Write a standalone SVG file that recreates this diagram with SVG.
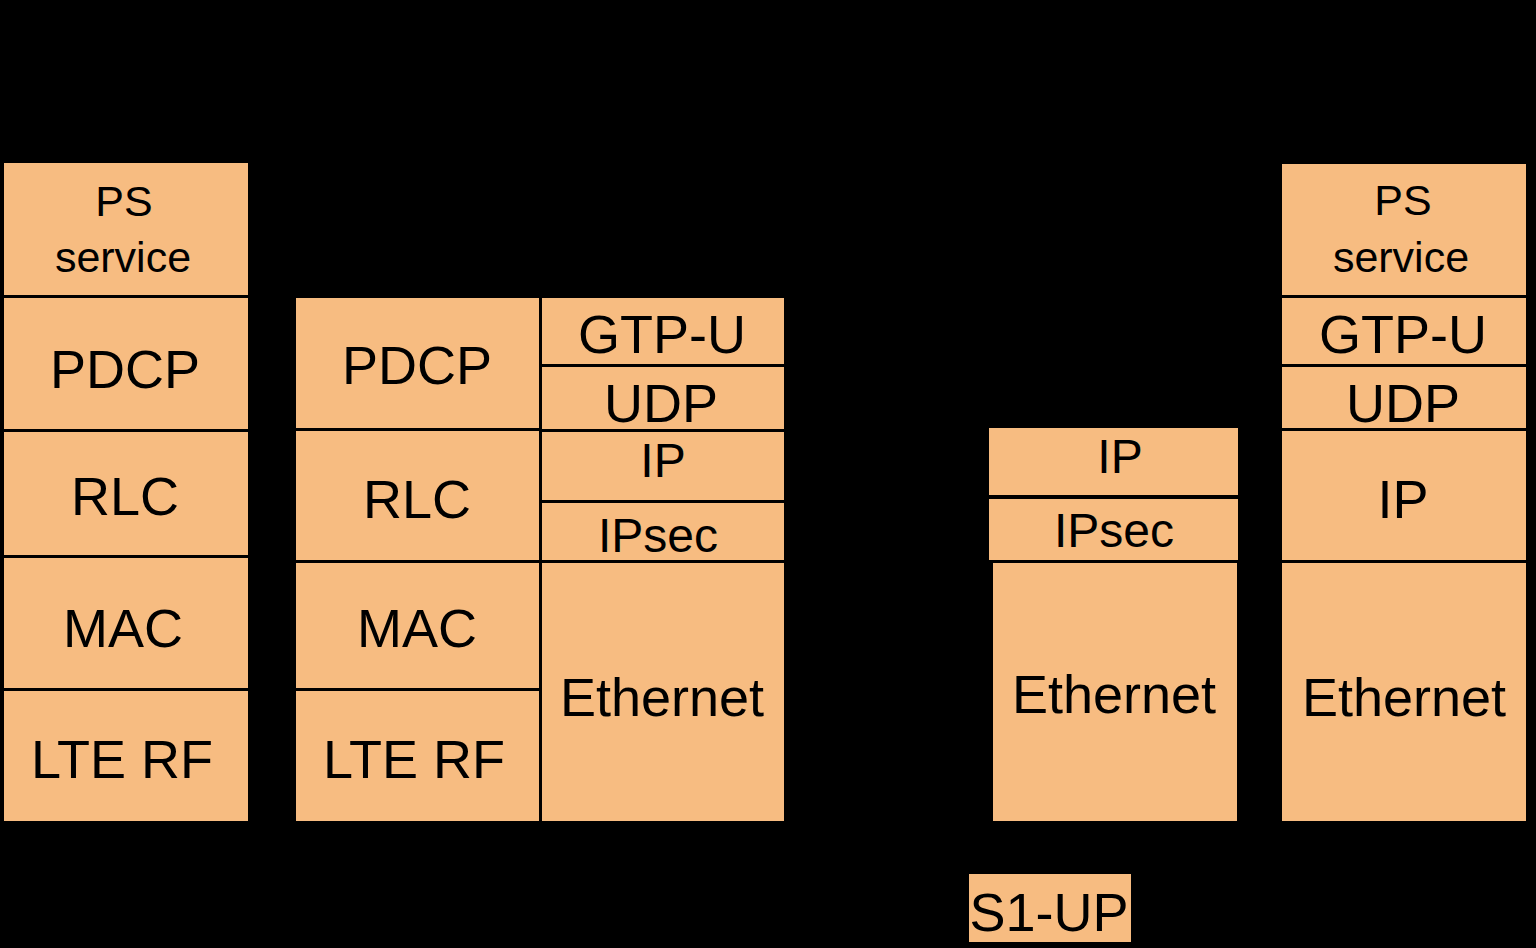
<svg xmlns="http://www.w3.org/2000/svg" width="1536" height="948" viewBox="0 0 1536 948">
<style>
.b{fill:#F7BC81;stroke:none}
.t{font-family:"Liberation Sans",Arial,sans-serif;fill:#000;text-anchor:middle}
.s42{font-size:43px}
.s47{font-size:48px}
.s52{font-size:53px}
.s53{font-size:54px}
</style>
<rect x="0" y="0" width="1536" height="948" fill="#000"/>
<g id="ue">
<g id="ue-ps"><rect class="b" x="4" y="163" width="244" height="132"/><text class="t s42" x="124" y="216">PS</text><text class="t s42" x="123" y="272">service</text></g>
<g id="ue-pdcp"><rect class="b" x="4" y="298" width="244" height="131"/><text class="t s53" x="125" y="388">PDCP</text></g>
<g id="ue-rlc"><rect class="b" x="4" y="432" width="244" height="123"/><text class="t s53" x="125" y="515">RLC</text></g>
<g id="ue-mac"><rect class="b" x="4" y="558" width="244" height="130"/><text class="t s53" x="123" y="647">MAC</text></g>
<g id="ue-rf"><rect class="b" x="4" y="691" width="244" height="130"/><text class="t s53" x="122" y="778">LTE RF</text></g>
</g>
<g id="enb">
<g id="enb-pdcp"><rect class="b" x="296" y="298" width="243" height="130"/><text class="t s53" x="417" y="384">PDCP</text></g>
<g id="enb-rlc"><rect class="b" x="296" y="431" width="243" height="129"/><text class="t s53" x="417" y="518">RLC</text></g>
<g id="enb-mac"><rect class="b" x="296" y="563" width="243" height="125"/><text class="t s53" x="417" y="647">MAC</text></g>
<g id="enb-rf"><rect class="b" x="296" y="691" width="243" height="130"/><text class="t s53" x="414" y="778">LTE RF</text></g>
<g id="enb-gtpu"><rect class="b" x="542" y="298" width="242" height="66"/><text class="t s53" x="662" y="353">GTP-U</text></g>
<g id="enb-udp"><rect class="b" x="542" y="367" width="242" height="62"/><text class="t s53" x="661" y="422">UDP</text></g>
<g id="enb-ip"><rect class="b" x="542" y="432" width="242" height="68"/><text class="t s47" x="663" y="477">IP</text></g>
<g id="enb-ipsec"><rect class="b" x="542" y="503" width="242" height="57"/><text class="t s47" x="658" y="552">IPsec</text></g>
<g id="enb-eth"><rect class="b" x="542" y="563" width="242" height="258"/><text class="t s53" x="662" y="716">Ethernet</text></g>
</g>
<g id="router">
<g id="rt-ip"><rect class="b" x="989" y="428" width="249" height="67"/><text class="t s47" x="1120" y="473">IP</text></g>
<g id="rt-ipsec"><rect class="b" x="989" y="499" width="249" height="61"/><text class="t s47" x="1114" y="547">IPsec</text></g>
<g id="rt-eth"><rect class="b" x="993" y="563" width="244" height="258"/><text class="t s53" x="1114" y="713">Ethernet</text></g>
</g>
<g id="sgw">
<g id="sgw-ps"><rect class="b" x="1282" y="164" width="244" height="131"/><text class="t s42" x="1403" y="215">PS</text><text class="t s42" x="1401" y="272">service</text></g>
<g id="sgw-gtpu"><rect class="b" x="1282" y="298" width="244" height="66"/><text class="t s53" x="1403" y="353">GTP-U</text></g>
<g id="sgw-udp"><rect class="b" x="1282" y="367" width="244" height="61"/><text class="t s53" x="1403" y="422">UDP</text></g>
<g id="sgw-ip"><rect class="b" x="1282" y="431" width="244" height="129"/><text class="t s53" x="1403" y="518">IP</text></g>
<g id="sgw-eth"><rect class="b" x="1282" y="563" width="244" height="258"/><text class="t s53" x="1404" y="716">Ethernet</text></g>
</g>
<g id="s1up-label"><rect class="b" x="969" y="874" width="162" height="68"/><text class="t s53" x="1049" y="931">S1-UP</text></g>
<g id="connectors"></g>
</svg>
